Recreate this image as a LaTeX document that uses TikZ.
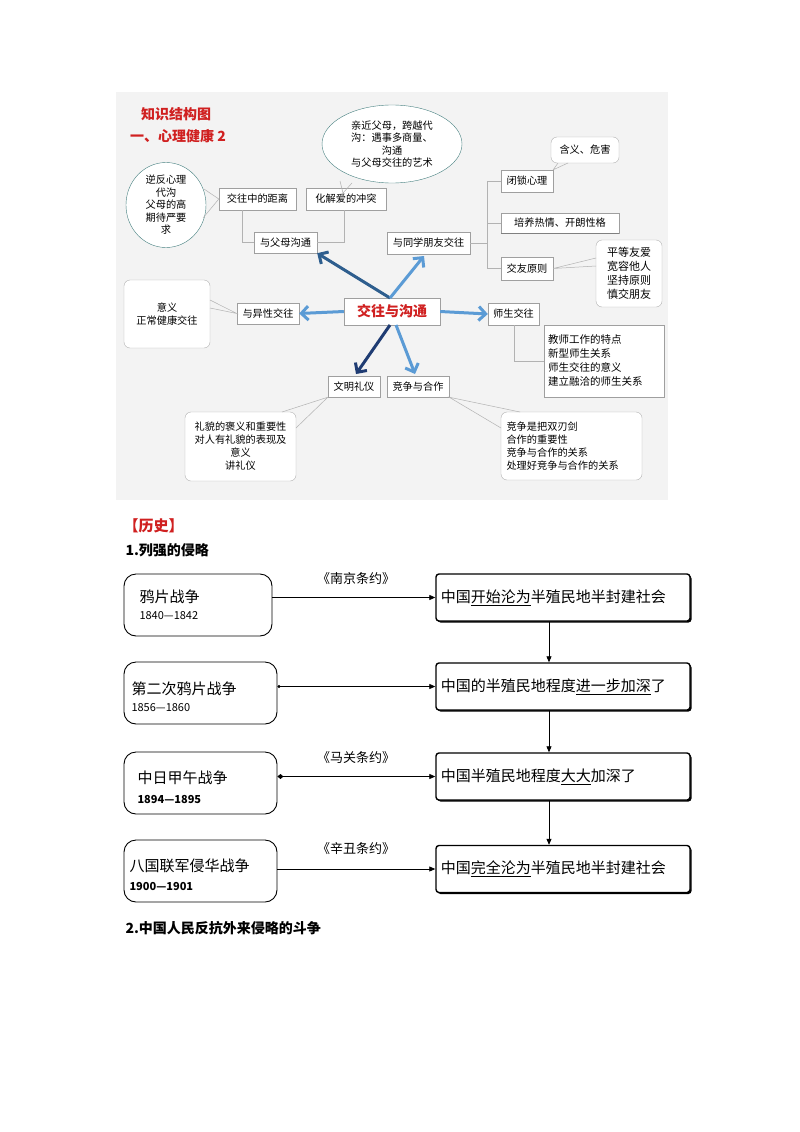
\documentclass[tikz,border=0pt]{standalone}
\usepackage{fontspec}
\setmainfont{Noto Sans CJK SC}
\usetikzlibrary{arrows.meta,shadows,shapes.geometric}
\definecolor{dblue}{HTML}{2E5E8E}
\definecolor{lblue}{HTML}{5B9BD5}
\definecolor{nblue}{HTML}{1F3C73}
\definecolor{bgg}{HTML}{F3F3F3}
\definecolor{hred}{HTML}{D02020}
\begin{document}
\begin{tikzpicture}[x=1pt,y=-1pt,
  tbox/.style={draw=gray!75,fill=white,inner sep=0pt,font=\fontsize{10.2}{11}\selectfont},
  bub/.style={draw=gray!60,fill=white,rounded corners=6pt,inner sep=0pt,align=center,font=\fontsize{10.2}{13}\selectfont},
  ell/.style={draw=teal!45!gray,fill=white,ellipse,inner sep=0pt,align=center,font=\fontsize{10.2}{12.5}\selectfont},
  tl/.style={draw=gray!60,line width=0.5pt},
  big/.style={line width=3pt,-{Straight Barb[length=7pt,width=14pt,line width=3pt]}},
  lbox/.style={draw,line width=0.9pt,rounded corners=12pt,inner sep=0pt,fill=white},
  rbox/.style={draw,line width=1.4pt,rounded corners=3pt,inner sep=0pt,fill=white,drop shadow={opacity=1,shadow xshift=1.5pt,shadow yshift=-1.5pt,fill=black}},
  arr/.style={line width=0.8pt,-{Triangle[length=6pt,width=5pt]}},
]
\useasboundingbox (0,0) rectangle (800,1132);
\fill[white] (0,0) rectangle (800,1132);
\fill[bgg] (116,92) rectangle (668,500);
% titles
\node[hred,font=\fontsize{14}{15}\selectfont\bfseries] (t1) at (176,114) {知识结构图};
\node[hred,font=\fontsize{14}{15}\selectfont\bfseries] (t2) at (178,136) {一、心理健康 2};
% connector lines (behind)
\coordinate (c1) at (242,242.5);
\coordinate (c2) at (344,242.5);
\coordinate (b1) at (487,243);
\coordinate (b2) at (487,181);
\coordinate (b3) at (487,268.5);
\coordinate (s1) at (514,361);
% nodes
\node[ell,minimum width=80pt,minimum height=85pt] (nifan) at (166,205) {逆反心理\\代沟\\父母的高\\期待严要\\求};
\node[ell,minimum width=140pt,minimum height=78pt] (qinjin) at (392,144) {亲近父母，跨越代\\沟：遇事多商量、\\沟通\\与父母交往的艺术};
\node[tbox,minimum width=77pt,minimum height=22pt] (dist) at (257.5,199) {交往中的距离};
\node[tbox,minimum width=80pt,minimum height=22pt] (hj) at (346,199) {化解爱的冲突};
\node[tbox,minimum width=63pt,minimum height=21pt] (fm) at (285.5,242.5) {与父母沟通};
\node[tbox,minimum width=83pt,minimum height=22pt] (py) at (428.5,243) {与同学朋友交往};
\node[tbox,minimum width=52pt,minimum height=22pt] (bs) at (527,181) {闭锁心理};
\node[tbox,minimum width=118pt,minimum height=20pt] (pr) at (560,223) {培养热情、开朗性格};
\draw[line width=1.2pt,gray] (pr.south west) -- (pr.south east);
\node[tbox,minimum width=52pt,minimum height=23pt] (jy) at (527,268.5) {交友原则};
\node[bub,minimum width=68pt,minimum height=26pt] (hy) at (585,150) {含义、危害};
\node[bub,minimum width=66pt,minimum height=67pt,font=\fontsize{11}{14}\selectfont] (pd) at (629,273.5) {平等友爱\\宽容他人\\坚持原则\\慎交朋友};
\node[bub,minimum width=86pt,minimum height=68pt] (yy) at (167,314) {意义\\正常健康交往};
\node[tbox,minimum width=62pt,minimum height=21pt] (yx) at (268,313.5) {与异性交往};
\node[tbox,minimum width=96pt,minimum height=27pt,text=hred,font=\fontsize{14}{16}\selectfont\bfseries] (ct) at (392,311.5) {交往与沟通};
\node[tbox,minimum width=51pt,minimum height=22pt] (ss) at (513.5,314) {师生交往};
\node[tbox,minimum width=120pt,minimum height=72pt,align=left,text width=112pt,inner xsep=4pt,font=\fontsize{10.5}{14}\selectfont] (tl) at (604,361) {教师工作的特点\\新型师生关系\\师生交往的意义\\建立融洽的师生关系};
\node[tbox,minimum width=52pt,minimum height=21pt] (wm) at (354,386.5) {文明礼仪};
\node[tbox,minimum width=62pt,minimum height=21pt] (jz) at (418,386.5) {竞争与合作};
\node[bub,minimum width=111pt,minimum height=69pt] (lm) at (240.5,446.5) {礼貌的褒义和重要性\\对人有礼貌的表现及\\意义\\讲礼仪};
\node[bub,minimum width=141pt,minimum height=68pt,align=left,text width=130pt] (jzb) at (571.5,446) {竞争是把双刃剑\\合作的重要性\\竞争与合作的关系\\处理好竞争与合作的关系};
% thin connectors
\draw[tl] (dist.south -| c1) -- (c1) -- (fm.west);
\draw[tl] (hj.south -| c2) -- (c2) -- (fm.east);
\draw[tl] (py.east) -- (b1);
\draw[tl] (b2) -- (b3);
\draw[tl] (b2) -- (bs.west);
\draw[tl] (b1 |- pr.west) -- (pr.west);
\draw[tl] (b3) -- (jy.west);
\draw[tl] (ss.south -| s1) -- (s1) -- (tl.west);
% tails
\draw[tl] (204,189) -- (dist.west) -- (203,218);
\draw[tl] (340,181) -- (343,193) -- (352,183);
\draw[tl] (558,163) -- (bs.north east) -- (568,163);
\draw[tl] (596,258) -- (jy.east) -- (596,266);
\draw[tl] (210,300) -- (yx.west) -- (210,308);
\draw[tl] (282,412) -- (wm.south west) -- (296,428);
\draw[tl] (501,428) -- (jz.south east) -- (520,412);
% big arrows
\draw[big,dblue] (390,298) -- (fm.south east);
\draw[big,lblue] (390,298) -- (424,256);
\draw[big,lblue] (ct.west) -- (yx.east);
\draw[big,lblue] (ct.east) -- (ss.west);
\draw[big,nblue] (390,325) -- (356,374);
\draw[big,lblue] (396,325) -- (415,374);
% ===== history
\node[hred,font=\fontsize{15}{16}\selectfont\bfseries,anchor=west] (ls) at (120,526) {【历史】};
\node[font=\fontsize{14}{16}\selectfont\bfseries,anchor=west] (h1) at (122,550) {1.列强的侵略};
\node[font=\fontsize{14}{16}\selectfont\bfseries,anchor=west] (h2) at (122,928) {2.中国人民反抗外来侵略的斗争};
% left boxes
\node[lbox,minimum width=148pt,minimum height=62pt] (L1) at (198,605) {};
\node[lbox,minimum width=153pt,minimum height=62pt] (L2) at (200.5,693) {};
\node[lbox,minimum width=153pt,minimum height=62pt] (L3) at (200.5,783) {};
\node[lbox,minimum width=153pt,minimum height=62pt] (L4) at (200.5,871) {};
\node[anchor=west,font=\fontsize{15}{16}\selectfont] (L1a) at (136,597) {鸦片战争};
\node[anchor=west,font=\fontsize{11}{12}\selectfont] (L1b) at (136,616) {1840—1842};
\node[anchor=west,font=\fontsize{15}{16}\selectfont] (L2a) at (128,689) {第二次鸦片战争};
\node[anchor=west,font=\fontsize{11}{12}\selectfont] (L2b) at (128,708) {1856—1860};
\node[anchor=west,font=\fontsize{15}{16}\selectfont] (L3a) at (134,778) {中日甲午战争};
\node[anchor=west,font=\fontsize{11}{12}\selectfont\bfseries] (L3b) at (134,799) {1894—1895};
\node[anchor=west,font=\fontsize{15}{16}\selectfont] (L4a) at (126,866) {八国联军侵华战争};
\node[anchor=west,font=\fontsize{11}{12}\selectfont\bfseries] (L4b) at (126,886) {1900—1901};
% right boxes
\node[rbox,minimum width=254pt,minimum height=47pt] (R1) at (563,597.5) {};
\node[rbox,minimum width=254pt,minimum height=47pt] (R2) at (563,686.5) {};
\node[rbox,minimum width=254pt,minimum height=47pt] (R3) at (563,776.5) {};
\node[rbox,minimum width=254pt,minimum height=47pt] (R4) at (563,869) {};
\node[anchor=west,xshift=2pt,font=\fontsize{15}{16}\selectfont] at (R1.west) {中国\underline{开始沦为}半殖民地半封建社会};
\node[anchor=west,xshift=2pt,font=\fontsize{15}{16}\selectfont] at (R2.west) {中国的半殖民地程度\underline{进一步加深}了};
\node[anchor=west,xshift=2pt,font=\fontsize{15}{16}\selectfont] at (R3.west) {中国半殖民地程度\underline{大大}加深了};
\node[anchor=west,xshift=2pt,font=\fontsize{15}{16}\selectfont] at (R4.west) {中国\underline{完全沦为}半殖民地半封建社会};
% treaty labels
\node[font=\fontsize{13}{14}\selectfont] (tr1) at (356,579) {《南京条约》};
\node[font=\fontsize{13}{14}\selectfont] (tr3) at (356,758) {《马关条约》};
\node[font=\fontsize{13}{14}\selectfont] (tr4) at (356,849) {《辛丑条约》};
% arrows
\draw[arr] (L1.east |- R1.west) -- (R1.west);
\draw[arr,{Circle[length=3pt]}-{Triangle[length=6pt,width=5pt]}] (L2.east |- R2.west) -- (R2.west);
\draw[arr,{Diamond[length=6pt,width=5pt]}-{Triangle[length=6pt,width=5pt]}] (L3.east |- R3.west) -- (R3.west);
\draw[arr] (L4.east |- R4.west) -- (R4.west);
\draw[arr] (R1.south -| 549,0) -- (R2.north -| 549,0);
\draw[arr] (R2.south -| 549,0) -- (R3.north -| 549,0);
\draw[arr] (R3.south -| 549,0) -- (R4.north -| 549,0);
\end{tikzpicture}
\end{document}
